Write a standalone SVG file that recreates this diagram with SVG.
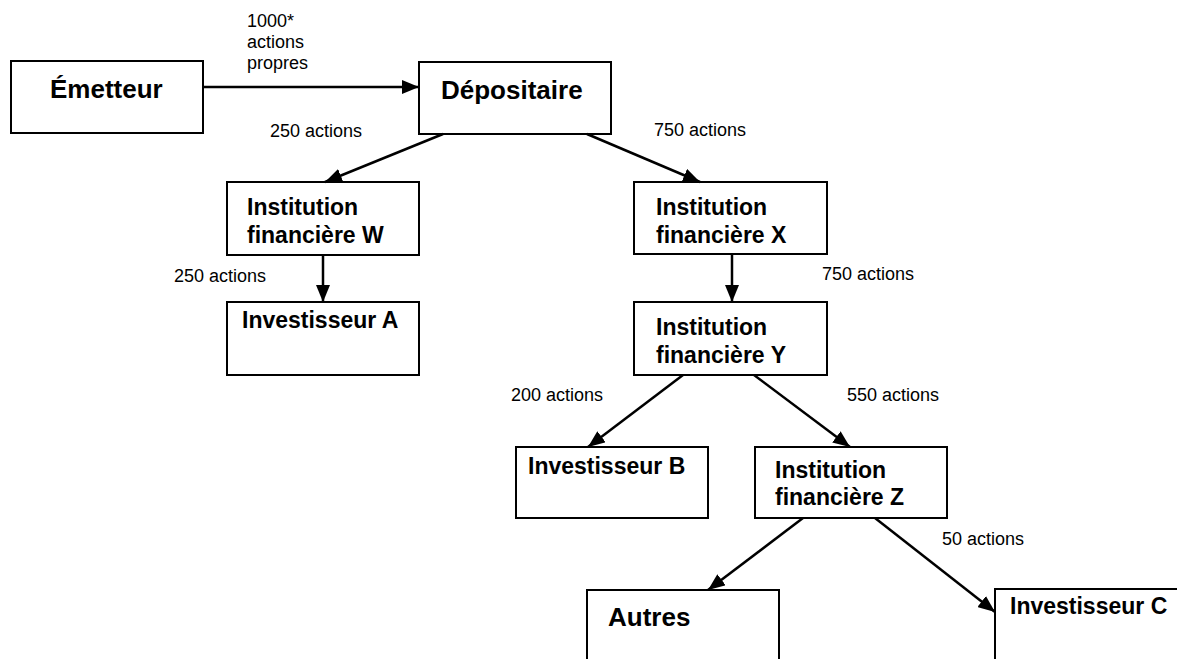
<svg xmlns="http://www.w3.org/2000/svg" width="1177" height="659" viewBox="0 0 1177 659">
<style>
.box{fill:#fff;stroke:#000;stroke-width:2}
.n{font-family:"Liberation Sans",Arial,sans-serif;font-weight:bold;font-size:23px;fill:#000}
.big{font-size:26px}
.lbl{font-family:"Liberation Sans",Arial,sans-serif;font-size:18px;fill:#000}
.edge{stroke:#000;stroke-width:2.5;fill:none;marker-end:url(#ah)}
</style>
<defs>
<marker id="ah" markerUnits="userSpaceOnUse" markerWidth="17" markerHeight="14" refX="17" refY="7" orient="auto">
<path d="M0,0 L17,7 L0,14 z" fill="#000"/>
</marker>
</defs>
<rect width="1177" height="659" fill="#fff"/>
<g id="emetteur"><rect class="box" x="11" y="61" width="192" height="72"/><text class="n big" x="50" y="98">Émetteur</text></g>
<g id="depositaire"><rect class="box" x="419" y="62" width="192" height="72"/><text class="n big" x="441" y="99">Dépositaire</text></g>
<g id="inst-w"><rect class="box" x="227" y="182" width="192" height="73"/><text class="n" x="247" y="215">Institution</text><text class="n" x="247" y="243">financière W</text></g>
<g id="inv-a"><rect class="box" x="227" y="302" width="192" height="73"/><text class="n" x="242" y="328">Investisseur A</text></g>
<g id="inst-x"><rect class="box" x="634" y="182" width="193" height="72"/><text class="n" x="656" y="215">Institution</text><text class="n" x="656" y="243">financière X</text></g>
<g id="inst-y"><rect class="box" x="634" y="302" width="193" height="73"/><text class="n" x="656" y="335">Institution</text><text class="n" x="656" y="363">financière Y</text></g>
<g id="inv-b"><rect class="box" x="516" y="447" width="192" height="71"/><text class="n" x="528" y="474">Investisseur B</text></g>
<g id="inst-z"><rect class="box" x="755" y="447" width="192" height="71"/><text class="n" x="775" y="478">Institution</text><text class="n" x="775" y="505">financière Z</text></g>
<g id="autres"><rect class="box" x="587" y="590" width="192" height="100"/><text class="n big" x="608" y="626">Autres</text></g>
<g id="inv-c"><rect class="box" x="995" y="589" width="220" height="100"/><text class="n" x="1010" y="614">Investisseur C</text></g>
<g id="connectors">
<line class="edge" x1="203" y1="87" x2="419" y2="87"/>
<line class="edge" x1="443" y1="134" x2="325" y2="182"/>
<line class="edge" x1="587" y1="134" x2="700" y2="182"/>
<line class="edge" x1="323" y1="255" x2="323" y2="302"/>
<line class="edge" x1="732" y1="254" x2="732" y2="302"/>
<line class="edge" x1="683" y1="375" x2="588" y2="447"/>
<line class="edge" x1="754" y1="375" x2="850" y2="447"/>
<line class="edge" x1="803" y1="518" x2="708" y2="590"/>
<line class="edge" x1="875" y1="518" x2="995" y2="612"/>
</g>
<g id="labels">
<text class="lbl" x="247" y="27">1000*</text>
<text class="lbl" x="247" y="48">actions</text>
<text class="lbl" x="247" y="69">propres</text>
<text class="lbl" x="270" y="137">250 actions</text>
<text class="lbl" x="654" y="136">750 actions</text>
<text class="lbl" x="174" y="282">250 actions</text>
<text class="lbl" x="822" y="280">750 actions</text>
<text class="lbl" x="511" y="401">200 actions</text>
<text class="lbl" x="847" y="401">550 actions</text>
<text class="lbl" x="942" y="545">50 actions</text>
</g>
</svg>
